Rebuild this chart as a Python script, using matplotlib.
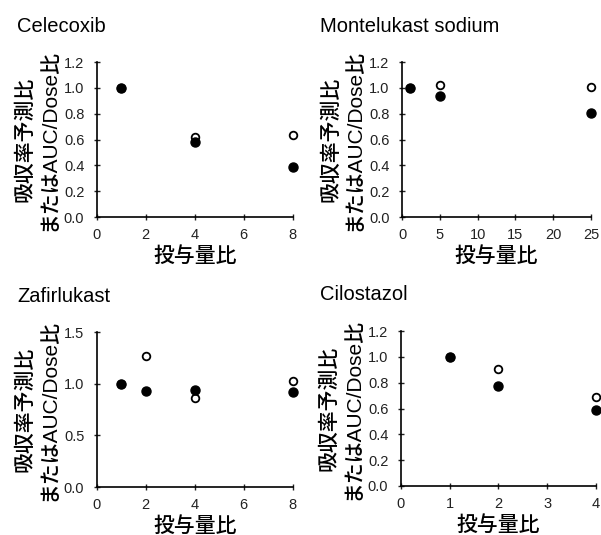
import matplotlib
matplotlib.use('Agg')
import matplotlib.pyplot as plt

plt.rcParams['font.family'] = ['Liberation Sans', 'Noto Sans CJK JP', 'DejaVu Sans']

# panel data: dose ratio, predicted absorption ratio (open), AUC/Dose ratio (filled)
titles = ['Celecoxib', 'Montelukast sodium', 'Zafirlukast', 'Cilostazol']

cel_x = [1, 4, 8]
cel_open = [1.0, 0.62, 0.635]
cel_filled = [1.0, 0.585, 0.39]

mon_x = [1, 5, 25]
mon_open = [1.0, 1.02, 1.005]
mon_filled = [1.0, 0.94, 0.805]

zaf_x = [1, 2, 4, 8]
zaf_open = [1.0, 1.27, 0.865, 1.03]
zaf_filled = [1.0, 0.926, 0.935, 0.916]

cil_x = [1, 2, 4]
cil_open = [1.0, 0.908, 0.688]
cil_filled = [1.0, 0.776, 0.592]

xticks = [[0, 2, 4, 6, 8], [0, 5, 10, 15, 20, 25], [0, 2, 4, 6, 8], [0, 1, 2, 3, 4]]
yticks = [[0.0, 0.2, 0.4, 0.6, 0.8, 1.0, 1.2], [0.0, 0.2, 0.4, 0.6, 0.8, 1.0, 1.2],
          [0.0, 0.5, 1.0, 1.5], [0.0, 0.2, 0.4, 0.6, 0.8, 1.0, 1.2]]

xs = [cel_x, mon_x, zaf_x, cil_x]
opens = [cel_open, mon_open, zaf_open, cil_open]
filleds = [cel_filled, mon_filled, zaf_filled, cil_filled]

fig = plt.figure(figsize=(6.01, 5.35), dpi=100)

rects = [
    [0.161, 0.594, 0.326, 0.290],
    [0.669, 0.594, 0.3145, 0.290],
    [0.161, 0.0897, 0.326, 0.2897],
    [0.667, 0.0916, 0.3245, 0.2894],
]
title_pos = [(17, 32), (320, 32), (17, 302), (320, 300)]

for i in range(4):
    ax = fig.add_axes(rects[i])
    ax.plot(xs[i], opens[i], 'o', ms=5.5, mfc='white', mec='black', mew=1.3, clip_on=False, zorder=3)
    ax.plot(xs[i], filleds[i], 'o', ms=6.5, mfc='black', mec='black', clip_on=False, zorder=4)
    ax.set_xlim(xticks[i][0], xticks[i][-1])
    ax.set_ylim(yticks[i][0], yticks[i][-1])
    ax.set_xticks(xticks[i])
    ax.set_yticks(yticks[i])
    ax.set_yticklabels(['%.1f' % v for v in yticks[i]])
    ax.spines['top'].set_visible(False)
    ax.spines['right'].set_visible(False)
    for s in ['left', 'bottom']:
        ax.spines[s].set_linewidth(1.2)
    ax.tick_params(direction='inout', length=4, width=1, labelsize=10.5, colors='#222222')
    ax.tick_params(axis='y', pad=7)
    ax.tick_params(axis='x', pad=6)
    ax.set_xlabel('投与量比', fontsize=15, fontweight='medium', labelpad=3)
    ax.set_ylabel('吸収率予測比\nまたはAUC/Dose比', fontsize=15, fontweight='medium',
                  labelpad=4, linespacing=1.3)
    tx, ty = title_pos[i]
    fig.text(tx / 601, 1 - ty / 535, titles[i], fontsize=14.5, ha='left', va='baseline')

plt.savefig('out.png', dpi=100)
